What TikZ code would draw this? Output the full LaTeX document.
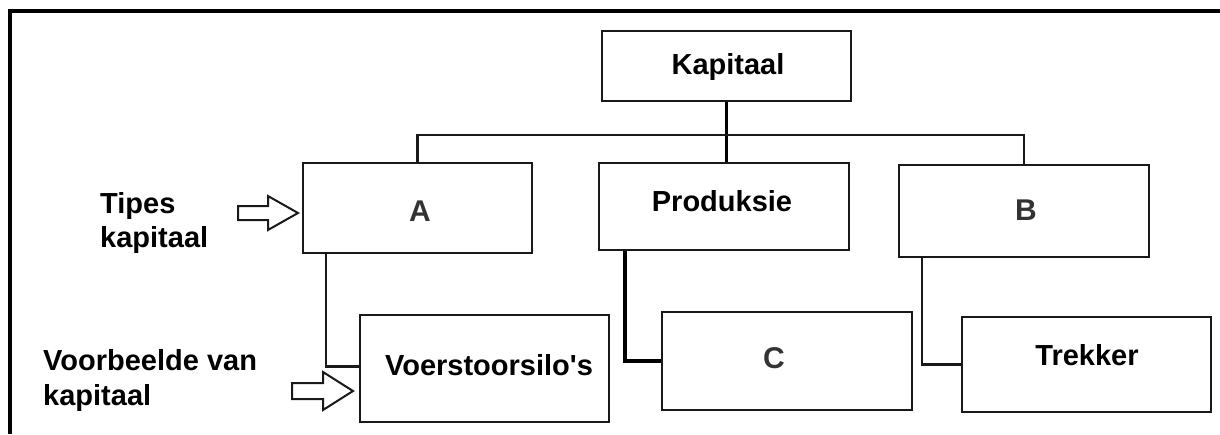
\documentclass[tikz,border=0pt]{standalone}
\usepackage{fontspec}
\setmainfont{Liberation Sans}
\begin{document}
\begin{tikzpicture}[x=1pt,y=-1pt,
  box/.style={draw=black!90, line width=2pt, rectangle, inner sep=0pt},
  lbl/.style={font=\fontsize{29}{35}\selectfont\bfseries, inner sep=0pt, anchor=base},
  letter/.style={font=\fontsize{30}{36}\selectfont\bfseries, inner sep=0pt, anchor=base, text=black!80},
  side/.style={font=\fontsize{29}{35}\selectfont\bfseries, inner sep=0pt, anchor=base west},
  conn/.style={draw=black!90, line width=2.6pt},
  thick conn/.style={draw=black, line width=3.6pt},
  blockarrow/.style={draw=black!90, line width=2pt, fill=white, line join=miter}
]
\useasboundingbox (0,0) rectangle (1220,434);
% frame
\draw[line width=4pt] (10,434) -- (10,11) -- (1220,11);

% boxes
\node[box, minimum width=249, minimum height=70] (kap)  at (726.5,66) {};
\node[box, minimum width=229, minimum height=90] (A)    at (417.5,208) {};
\node[box, minimum width=250, minimum height=87] (prod) at (724,206.5) {};
\node[box, minimum width=250, minimum height=92] (B)    at (1024,211) {};
\node[box, minimum width=249, minimum height=107] (vs)  at (484.5,368.5) {};
\node[box, minimum width=250, minimum height=98] (C)    at (787,361) {};
\node[box, minimum width=249, minimum height=95] (trek) at (1086.5,364.5) {};

% box texts
\node[lbl] (kapT) at (728,74) {Kapitaal};
\node[letter] (AT) at (420,221.5) {A};
\node[lbl] (prodT) at (722,211.5) {Produksie};
\node[letter] (BT) at (1026,220) {B};
\node[lbl] (vsT) at (489,375) {Voerstoorsilo\textquotesingle s};
\node[letter] (CT) at (774,368.5) {C};
\node[lbl] (trekT) at (1087,365) {Trekker};

% side labels
\node[side] (tip1) at (100,213) {Tipes};
\node[side] (tip2) at (100,247) {kapitaal};
\node[side] (vb1) at (43,370) {Voorbeelde van};
\node[side] (vb2) at (43,405) {kapitaal};

% connectors
\coordinate (busY) at (0,135);
\draw[thick conn] (kap.south) -- (kap.south |- prod.north);
\draw[conn] (A.north) |- (busY -| kap.south) -| (B.north);
\draw[conn] ([xshift=24pt]A.south west) |- ([yshift=2pt]vs.west);
\draw[thick conn] ([xshift=27pt]prod.south west) |- (C.west);
\draw[conn] ([xshift=24pt]B.south west) |- (trek.west);

% block arrows
\coordinate (arr1) at (298,213);
\coordinate (arr2) at (353,391);
\draw[blockarrow] (arr1) ++(-60,7) -- ++(30,0) -- ++(0,10) -- (arr1) -- ++(-30,-17) -- ++(0,10) -- ++(-30,0) -- cycle;
\draw[blockarrow] (arr2) ++(-61,8) -- ++(31,0) -- ++(0,11) -- (arr2) -- ++(-30,-19) -- ++(0,11) -- ++(-31,0) -- cycle;
\end{tikzpicture}
\end{document}
